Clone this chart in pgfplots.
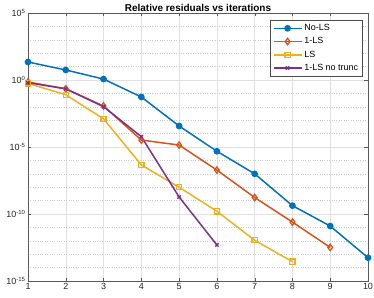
\documentclass[border=0pt]{standalone}
\usepackage{pgfplots}
\pgfplotsset{compat=1.18}
\usepackage{fontspec}
\setmainfont{Liberation Sans}
\definecolor{c1}{rgb}{0,0.447,0.741}
\definecolor{c2}{rgb}{0.85,0.325,0.098}
\definecolor{c3}{rgb}{0.929,0.694,0.125}
\definecolor{c4}{rgb}{0.494,0.184,0.556}
\begin{document}
\begin{tikzpicture}[x=1bp,y=1bp]
\path[use as bounding box] (-28,-17) rectangle (346,281);
\begin{axis}[
  at={(0,0)}, anchor=south west,
  scale only axis, width=340bp, height=268bp,
  ymode=log, xmin=1, xmax=10, ymin=1e-15, ymax=1e5,
  xtick={1,...,10},
  ytick={1e-15,1e-10,1e-5,1,1e5},
  yticklabels={10\textsuperscript{-15},10\textsuperscript{-10},10\textsuperscript{-5},10\textsuperscript{0},10\textsuperscript{5}},
  minor ytick={1e-14,1e-13,1e-12,1e-11,1e-9,1e-8,1e-7,1e-6,1e-4,1e-3,1e-2,1e-1,1e1,1e2,1e3,1e4},
  /pgf/number format/assume math mode=true,
  ticklabel style={font=\fontsize{9}{10}\selectfont, text=black!85},
  yticklabel style={xshift=1bp},
  xticklabel style={yshift=1bp},
  tick align=inside, major tick length=3.5bp, minor tick length=0bp,
  xmajorgrids, ymajorgrids, yminorgrids,
  major grid style={black!12, line width=0.5pt},
  minor grid style={black!20, dotted, line width=0.5pt},
  axis line style={black!65},
  tick style={black!65},
  title={\textbf{Relative residuals vs iterations}},
  title style={font=\fontsize{10}{11}\selectfont, yshift=-8bp},
  legend style={at={(0.985,0.975)}, anchor=north east, font=\fontsize{9}{10}\selectfont, draw=black!70, line width=0.5pt, row sep=1.5pt, inner sep=2.5pt},
  legend cell align=left,
  legend image code/.code={\draw[mark repeat=2,mark phase=2,#1] plot coordinates {(0bp,0bp) (14bp,0bp) (28bp,0bp)};},
  every axis plot/.append style={line width=1.5pt},
  legend image post style={line width=1.5pt},
]
\addplot[c1, mark=*, mark size=2.6pt] coordinates {
(1,2.2e1) (2,5.6) (3,1.17) (4,5.4e-2) (5,3.7e-4) (6,4.8e-6) (7,1e-7) (8,4.2e-10) (9,1.26e-11) (10,5.5e-14)};
\addlegendentry{No-LS}
\addplot[c2, mark=diamond, mark size=3.2pt, mark options={line width=1.3pt}] coordinates {
(1,0.71) (2,0.22) (3,1.15e-2) (4,3.3e-5) (5,1.4e-5) (6,1.9e-7) (7,1.7e-9) (8,2.5e-11) (9,3.2e-13)};
\addlegendentry{1-LS}
\addplot[c3, mark=square, mark size=2.6pt, mark options={line width=1.3pt}] coordinates {
(1,0.56) (2,7.9e-2) (3,1.26e-3) (4,4.6e-7) (5,1.0e-8) (6,1.6e-10) (7,1.1e-12) (8,2.75e-14)};
\addlegendentry{LS}
\addplot[c4, mark=x, mark size=2.4pt, mark options={line width=1.3pt}] coordinates {
(1,0.63) (2,0.22) (3,1.02e-2) (4,5.9e-5) (5,1.86e-9) (6,4.9e-13)};
\addlegendentry{1-LS no trunc}
\end{axis}
\end{tikzpicture}
\end{document}
